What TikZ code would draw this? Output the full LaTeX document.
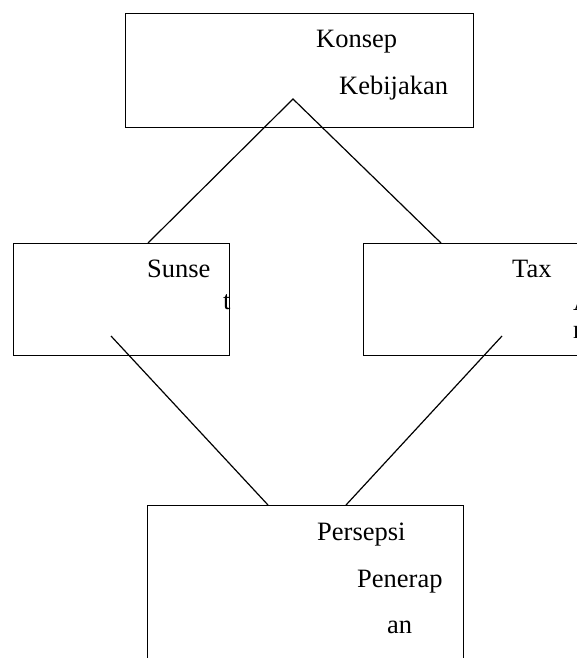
\documentclass[tikz,border=0pt]{standalone}
\usepackage{fontspec}
\setmainfont{Liberation Serif}
\begin{document}
\begin{tikzpicture}[x=1pt,y=-1pt,
  box/.style={draw=black,line width=1.3pt,rectangle,anchor=north west,inner sep=0pt},
  lbl/.style={anchor=base west,inner sep=0pt,font=\fontsize{26.5}{31}\selectfont},
  conn/.style={draw=black,line width=1.2pt}]
\clip (0,0) rectangle (577,658);
\fill[white] (0,0) rectangle (577,658);
% boxes
\node[box,minimum width=348pt,minimum height=114pt] (konsep) at (125,13) {};
\node[box,minimum width=216pt,minimum height=112pt] (sunset) at (13,243) {};
\node[box,minimum width=230pt,minimum height=112pt] (tax) at (363,243) {};
\node[box,minimum width=316pt,minimum height=170pt] (persepsi) at (147,505) {};
% texts
\node[lbl] (t1) at (316,48) {Konsep};
\node[lbl] (t2) at (339,95) {Kebijakan};
\node[lbl] (t3) at (147,277) {Sunse};
\node[lbl] (t4) at (223,309) {t};
\node[lbl] (t5) at (512,277) {Tax};
\node[lbl] (t6) at (573,310) {A};
\node[lbl] (t7) at (573,338) {r};
\node[lbl] (t8) at (317,540) {Persepsi};
\node[lbl] (t9) at (357,587) {Penerap};
\node[lbl] (t10) at (387,633) {an};
% connector end points
\coordinate (apex) at (293,99);
\coordinate (sunTop) at (148,243);
\coordinate (taxTop) at (441,243);
\coordinate (sunIn) at (111,336);
\coordinate (taxIn) at (502,336);
\coordinate (perL) at (268,505);
\coordinate (perR) at (346,505);
\draw[conn] (sunTop) -- (apex) -- (taxTop);
\draw[conn] (sunIn) -- (perL);
\draw[conn] (taxIn) -- (perR);
\end{tikzpicture}
\end{document}
